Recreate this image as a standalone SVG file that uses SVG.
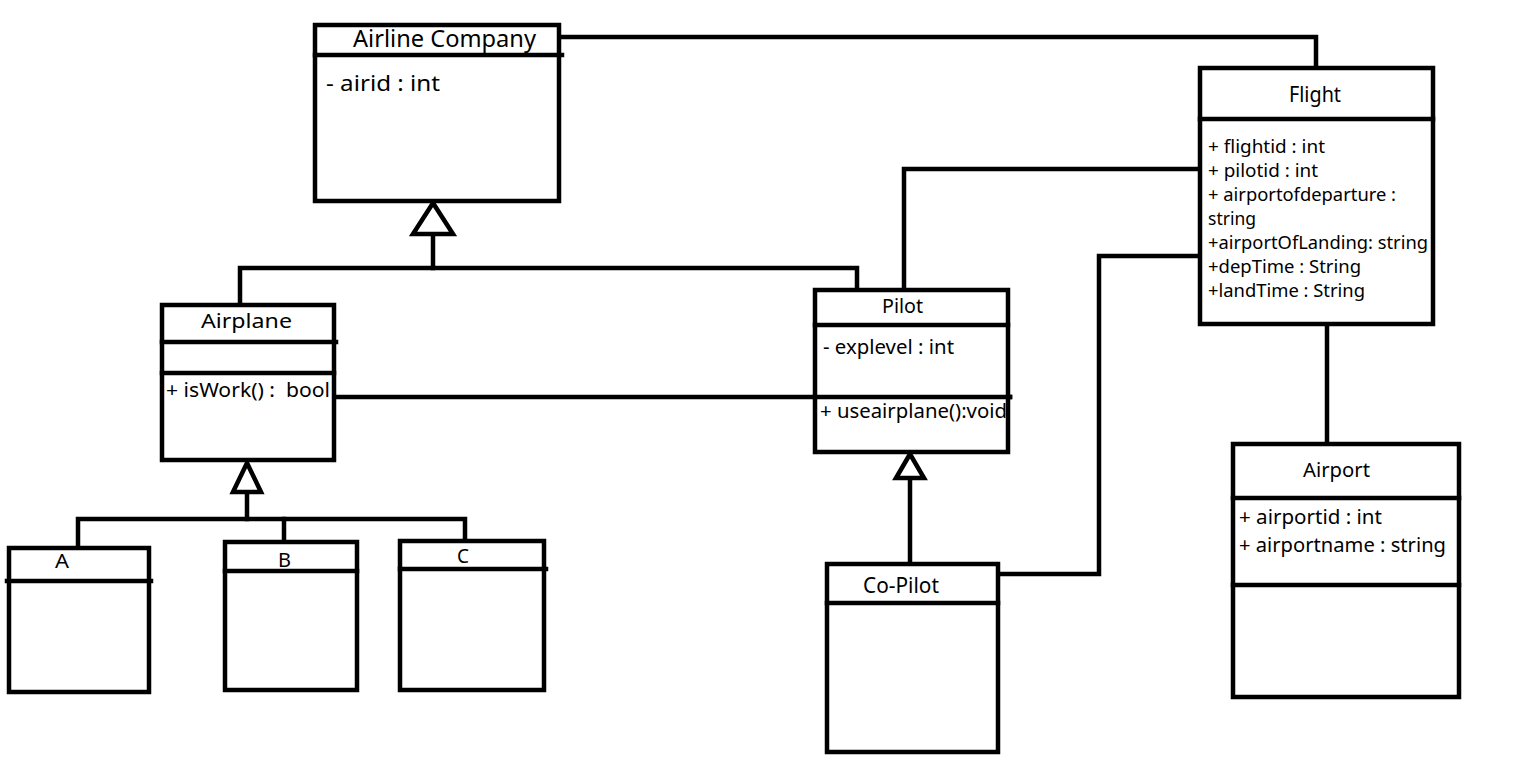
<svg xmlns="http://www.w3.org/2000/svg" width="1534" height="765" viewBox="0 0 1534 765">
<style>
.box{fill:#fff;stroke:#000;stroke-width:4.5}
.ln{fill:none;stroke:#000;stroke-width:4.5;stroke-linecap:square}
.tri{fill:#fff;stroke:#000;stroke-width:4.5;stroke-linejoin:miter}
text{font-family:"Noto Sans","Liberation Sans",sans-serif;fill:#000}
.t{font-size:20px}
.a{font-size:18px}
</style>
<rect width="1534" height="765" fill="#fff"/>
<g id="connectors">
<polyline class="ln" points="559,37 1316,37 1316,68"/>
<polyline class="ln" points="433,235 433,268"/>
<polyline class="ln" points="240,305 240,268 857,268 857,290"/>
<polyline class="ln" points="904,290 904,169 1200,169"/>
<polyline class="ln" points="1000,574 1099,574 1099,256 1200,256"/>
<line class="ln" x1="1327" y1="324" x2="1327" y2="444"/>
<line class="ln" x1="336" y1="397" x2="1010" y2="397"/>
<line class="ln" x1="247" y1="492" x2="247" y2="519"/>
<polyline class="ln" points="78,548 78,519 465,519 465,541"/>
<line class="ln" x1="284" y1="519" x2="284" y2="542"/>
<line class="ln" x1="910" y1="478" x2="910" y2="564"/>
<polygon class="tri" points="433,203 413,234 453,234"/>
<polygon class="tri" points="247,463 233,492 261,492"/>
<polygon class="tri" points="910,454 896,478 924,478"/>
</g>
<g id="airline-company">
<rect class="box" x="315" y="25" width="244" height="176"/>
<line class="ln" x1="315" y1="55" x2="562" y2="55"/>
<text x="353" y="47" font-size="23" textLength="183" lengthAdjust="spacingAndGlyphs">Airline Company</text>
<text x="326" y="91" font-size="21" textLength="114" lengthAdjust="spacingAndGlyphs">- airid : int</text>
</g>
<g id="flight">
<rect class="box" x="1200" y="68" width="233" height="256"/>
<line class="ln" x1="1200" y1="119" x2="1433" y2="119"/>
<text x="1289" y="102" font-size="21" textLength="52" lengthAdjust="spacingAndGlyphs">Flight</text>
<text class="a" x="1208" y="153" textLength="117" lengthAdjust="spacingAndGlyphs">+ flightid : int</text>
<text class="a" x="1208" y="177" textLength="110" lengthAdjust="spacingAndGlyphs">+ pilotid : int</text>
<text class="a" x="1208" y="201" textLength="188" lengthAdjust="spacingAndGlyphs">+ airportofdeparture :</text>
<text class="a" x="1208" y="225" textLength="48" lengthAdjust="spacingAndGlyphs">string</text>
<text class="a" x="1208" y="249" textLength="220" lengthAdjust="spacingAndGlyphs">+airportOfLanding: string</text>
<text class="a" x="1208" y="273" textLength="153" lengthAdjust="spacingAndGlyphs">+depTime : String</text>
<text class="a" x="1208" y="297" textLength="157" lengthAdjust="spacingAndGlyphs">+landTime : String</text>
</g>
<g id="airplane">
<rect class="box" x="162" y="305" width="172" height="155"/>
<line class="ln" x1="162" y1="342" x2="336" y2="342"/>
<line class="ln" x1="162" y1="373" x2="334" y2="373"/>
<text class="t" x="201" y="328" textLength="91" lengthAdjust="spacingAndGlyphs">Airplane</text>
<text class="t" x="166" y="397" textLength="164" lengthAdjust="spacingAndGlyphs" xml:space="preserve">+ isWork() :  bool</text>
</g>
<g id="pilot">
<rect class="box" x="815" y="290" width="193" height="162"/>
<line class="ln" x1="815" y1="325" x2="1008" y2="325"/>
<line class="ln" x1="815" y1="397" x2="1010" y2="397"/>
<text class="t" x="882" y="313" textLength="41" lengthAdjust="spacingAndGlyphs">Pilot</text>
<text x="823" y="354" font-size="19" textLength="131" lengthAdjust="spacingAndGlyphs">- explevel : int</text>
<text class="t" x="820" y="418" textLength="187" lengthAdjust="spacingAndGlyphs">+ useairplane():void</text>
</g>
<g id="airport">
<rect class="box" x="1233" y="444" width="226" height="253"/>
<line class="ln" x1="1233" y1="498" x2="1459" y2="498"/>
<line class="ln" x1="1233" y1="585" x2="1459" y2="585"/>
<text class="t" x="1303" y="477" textLength="67" lengthAdjust="spacingAndGlyphs">Airport</text>
<text class="t" x="1239" y="524" textLength="143" lengthAdjust="spacingAndGlyphs">+ airportid : int</text>
<text class="t" x="1239" y="552" textLength="207" lengthAdjust="spacingAndGlyphs">+ airportname : string</text>
</g>
<g id="co-pilot">
<rect class="box" x="827" y="564" width="171" height="188"/>
<line class="ln" x1="827" y1="603" x2="998" y2="603"/>
<text x="863" y="593" font-size="21" textLength="76" lengthAdjust="spacingAndGlyphs">Co-Pilot</text>
</g>
<g id="class-a">
<rect class="box" x="9" y="548" width="140" height="144"/>
<line class="ln" x1="7" y1="581" x2="151" y2="581"/>
<text x="55" y="568" font-size="19" textLength="14" lengthAdjust="spacingAndGlyphs">A</text>
</g>
<g id="class-b">
<rect class="box" x="225" y="542" width="132" height="148"/>
<line class="ln" x1="225" y1="571" x2="357" y2="571"/>
<text x="278" y="567" font-size="19" textLength="13" lengthAdjust="spacingAndGlyphs">B</text>
</g>
<g id="class-c">
<rect class="box" x="400" y="541" width="144" height="149"/>
<line class="ln" x1="400" y1="569" x2="546" y2="569"/>
<text x="457" y="563" font-size="19" textLength="12" lengthAdjust="spacingAndGlyphs">C</text>
</g>
</svg>
